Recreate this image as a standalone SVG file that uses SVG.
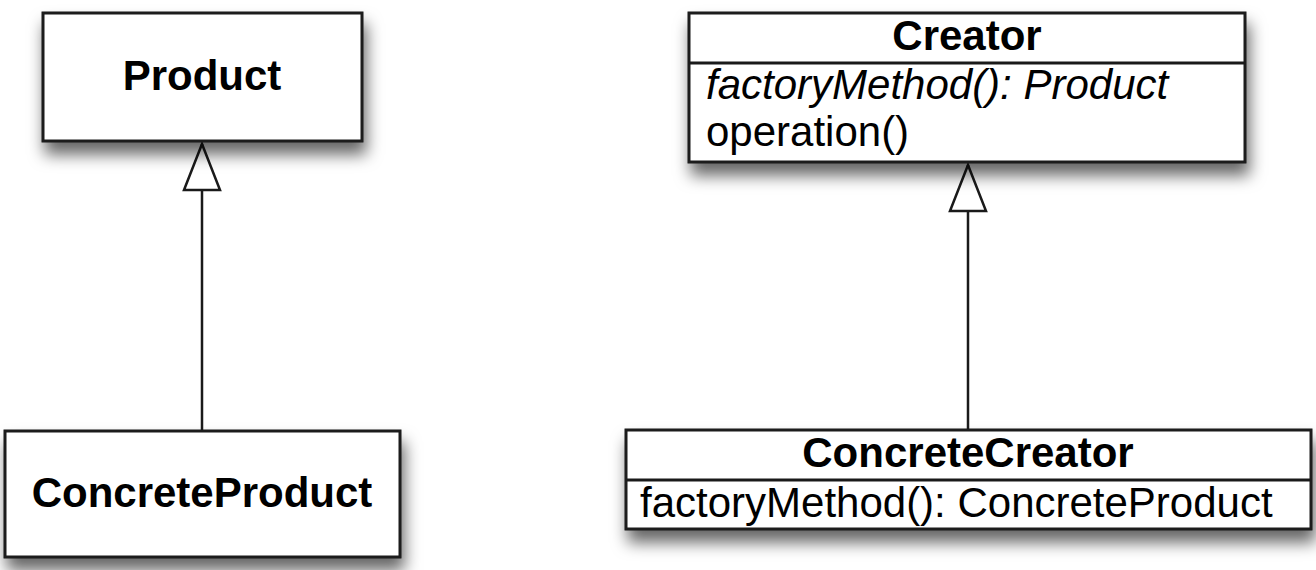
<svg xmlns="http://www.w3.org/2000/svg" width="1316" height="570" viewBox="0 0 1316 570">
  <style>
    .box { fill: #ffffff; stroke: #1a1a1a; stroke-width: 3; filter: url(#shadow); }
    .div { stroke: #1a1a1a; stroke-width: 3; }
    .t { font-family: "Liberation Sans", Arial, Helvetica, sans-serif; font-size: 42px; fill: #000; }
    .b { font-weight: bold; text-anchor: middle; }
    .i { font-style: italic; }
    .edge { stroke: #1a1a1a; stroke-width: 2.5; fill: none; marker-end: url(#gen); }
  </style>
  <defs>
    <filter id="shadow" x="-10%" y="-20%" width="125%" height="170%">
      <feDropShadow dx="3" dy="12" stdDeviation="8" flood-color="#000" flood-opacity="0.6"/>
    </filter>
    <marker id="gen" markerUnits="userSpaceOnUse" viewBox="-2 -2 52 40" refX="46" refY="18" markerWidth="52" markerHeight="40" orient="auto" overflow="visible">
      <polygon points="0,0 46,18 0,36" fill="#ffffff" stroke="#1a1a1a" stroke-width="2.5" stroke-linejoin="miter"/>
    </marker>
  </defs>

  <g id="connectors">
    <path class="edge" d="M202 430 L202 144"/>
    <path class="edge" d="M968 430 L968 165"/>
  </g>

  <g id="product">
    <rect class="box" x="43" y="13" width="319" height="128"/>
    <text class="t b" x="202" y="90">Product</text>
  </g>

  <g id="concreteProduct">
    <rect class="box" x="5" y="431" width="395" height="126"/>
    <text class="t b" x="202" y="507">ConcreteProduct</text>
  </g>

  <g id="creator">
    <rect class="box" x="689" y="13" width="556" height="149"/>
    <line class="div" x1="689" y1="63" x2="1245" y2="63"/>
    <text class="t b" x="967" y="50">Creator</text>
    <text class="t i" x="706" y="99">factoryMethod(): Product</text>
    <text class="t" x="706" y="146">operation()</text>
  </g>

  <g id="concreteCreator">
    <rect class="box" x="626" y="430" width="685" height="99"/>
    <line class="div" x1="626" y1="480" x2="1311" y2="480"/>
    <text class="t b" x="968" y="467">ConcreteCreator</text>
    <text class="t" x="640" y="517">factoryMethod(): ConcreteProduct</text>
  </g>
</svg>
